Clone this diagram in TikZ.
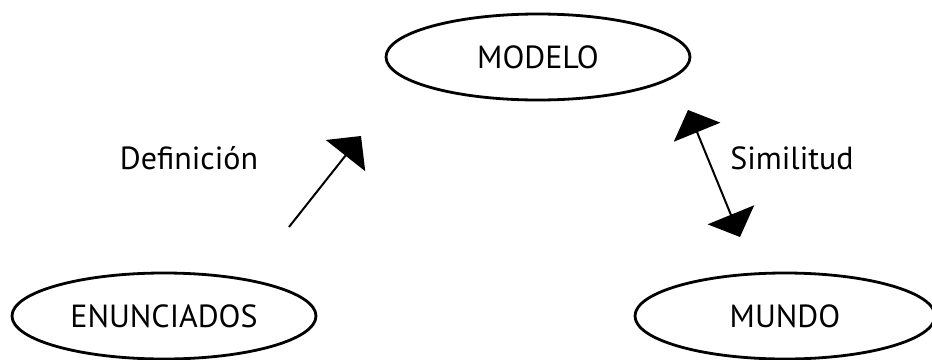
\documentclass[tikz,border=0pt]{standalone}
\usepackage{fontspec}
\setmainfont{PT Sans}
\usetikzlibrary{shapes.geometric,arrows.meta}
\tikzset{
  concept/.style={ellipse, draw, line width=2.8pt, inner sep=0pt,
    minimum width=304pt, minimum height=86pt, font=\fontsize{32}{38}\selectfont},
  tag/.style={inner sep=0pt, font=\fontsize{32}{38}\selectfont},
  link/.style={line width=2pt, -{Triangle[length=25pt,width=50pt]}},
  twoway/.style={line width=2pt, {Triangle[length=24pt,width=50pt]}-{Triangle[length=24pt,width=50pt]}}
}
\begin{document}
\begin{tikzpicture}[x=1pt,y=-1pt]
  \useasboundingbox (0,0) rectangle (932,359);
  \node[concept] (modelo) at (538,57) {MODELO\hspace{12pt}};
  \node[concept] (enunciados) at (164,316) {ENUNCIADOS\hspace{18pt}};
  \node[concept, minimum width=300pt] (mundo) at (785,316) {MUNDO};
  \node[tag] (def) at (189,158) {Definición};
  \node[tag] (sim) at (792,158) {Similitud};
  \coordinate (defstart) at (289,227);
  \coordinate (deftip) at (361,136);
  \coordinate (simtop) at (688,110);
  \coordinate (simbot) at (740,237);
  \draw[link] (defstart) -- (deftip);
  \draw[twoway] (simtop) -- (simbot);
\end{tikzpicture}
\end{document}
